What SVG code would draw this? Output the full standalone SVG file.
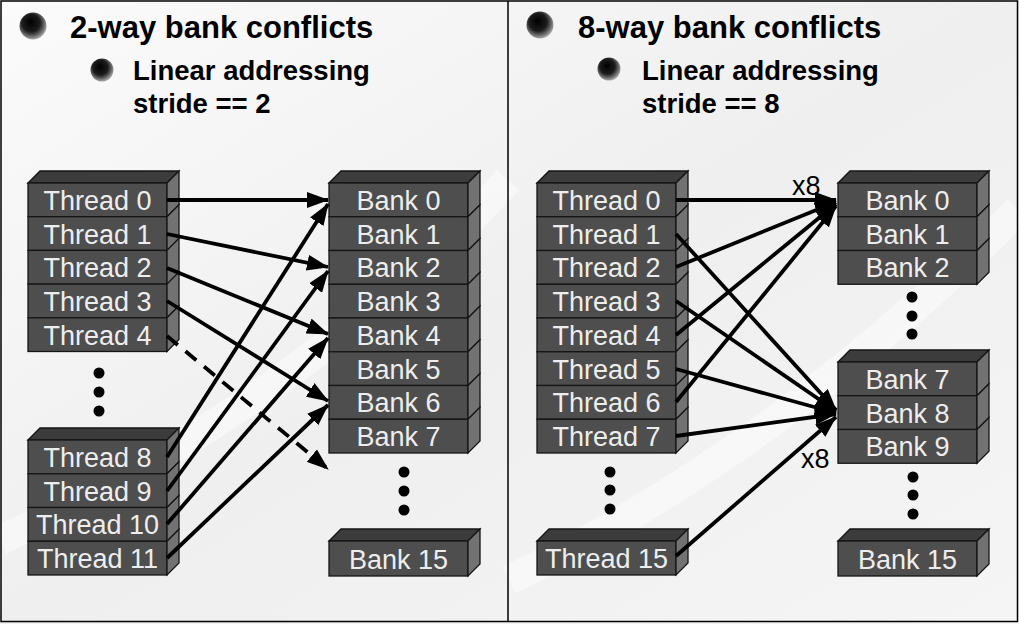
<svg xmlns="http://www.w3.org/2000/svg" width="1019" height="624" viewBox="0 0 1019 624">
<style>
.f{fill:#4e4e4e;stroke:#151515;stroke-width:1.3}
.s{fill:#727272;stroke:#151515;stroke-width:1.3}
.tp{fill:#3c3c3c;stroke:#151515;stroke-width:1.3}
.c{font-family:"Liberation Sans",Arial,sans-serif;font-size:27px;fill:#ededed;text-anchor:middle}
.h1{font-family:"Liberation Sans",Arial,sans-serif;font-size:31px;font-weight:bold;fill:#000}
.h2{font-family:"Liberation Sans",Arial,sans-serif;font-size:27.5px;font-weight:bold;fill:#000}
.lbl{font-family:"Liberation Sans",Arial,sans-serif;font-size:27px;fill:#000}
.a{stroke:#000;stroke-width:3.8;fill:none;marker-end:url(#ah)}
.d{stroke:#000;stroke-width:3.8;fill:none;stroke-dasharray:14 10;marker-end:url(#ah)}
.dot{fill:#000}
</style>
<defs>
<marker id="ah" markerUnits="userSpaceOnUse" markerWidth="24" markerHeight="16" refX="21" refY="8" orient="auto">
<path d="M0,0 L22,8 L0,16 z" fill="#000"/>
</marker>
<linearGradient id="bg" x1="0" y1="0" x2="1" y2="1">
<stop offset="0" stop-color="#fbfbfb"/>
<stop offset="0.5" stop-color="#efefef"/>
<stop offset="1" stop-color="#f5f5f5"/>
</linearGradient>
<radialGradient id="ball" cx="0.45" cy="0.42" r="0.6" fx="0.4" fy="0.35">
<stop offset="0" stop-color="#000"/>
<stop offset="0.55" stop-color="#1c1c1c"/>
<stop offset="0.8" stop-color="#6a6a6a"/>
<stop offset="1" stop-color="#b5b5b5"/>
</radialGradient>
</defs>

<g id="background">
<rect x="0" y="0" width="1019" height="624" fill="url(#bg)"/>
<path d="M0,540 C200,450 380,320 508,180" stroke="#ffffff" stroke-opacity="0.45" stroke-width="30" fill="none"/>
<path d="M509,580 C700,490 880,350 1018,210" stroke="#ffffff" stroke-opacity="0.45" stroke-width="30" fill="none"/>
<rect x="1" y="1" width="1016.5" height="620.5" fill="none" stroke="#000" stroke-width="1.5"/>
<line x1="508" y1="1" x2="508" y2="622" stroke="#000" stroke-width="1.5"/>
</g>

<g id="titles">
<circle cx="33" cy="26" r="13.5" fill="url(#ball)"/>
<text class="h1" x="70" y="38">2-way bank conflicts</text>
<circle cx="102" cy="70" r="11.5" fill="url(#ball)"/>
<text class="h2" x="133" y="80">Linear addressing</text>
<text class="h2" x="133" y="113">stride == 2</text>
<circle cx="540" cy="25" r="13.5" fill="url(#ball)"/>
<text class="h1" x="578" y="38">8-way bank conflicts</text>
<circle cx="609" cy="69" r="11.5" fill="url(#ball)"/>
<text class="h2" x="642" y="80">Linear addressing</text>
<text class="h2" x="642" y="113">stride == 8</text>
</g>

<!-- Left threads 0-4 -->
<g id="L-thread0"><polygon class="tp" points="28,183 40,171 179,171 167,183"/><rect class="f" x="28" y="183" width="139" height="33.7"/><polygon class="s" points="167,183 179,171 179,204.7 167,216.7"/><text class="c" x="97.5" y="209.9">Thread 0</text></g>
<g id="L-thread1"><rect class="f" x="28" y="216.7" width="139" height="33.7"/><polygon class="s" points="167,216.7 179,204.7 179,238.4 167,250.4"/><text class="c" x="97.5" y="243.6">Thread 1</text></g>
<g id="L-thread2"><rect class="f" x="28" y="250.4" width="139" height="33.7"/><polygon class="s" points="167,250.4 179,238.4 179,272.1 167,284.1"/><text class="c" x="97.5" y="277.3">Thread 2</text></g>
<g id="L-thread3"><rect class="f" x="28" y="284.1" width="139" height="33.7"/><polygon class="s" points="167,284.1 179,272.1 179,305.8 167,317.8"/><text class="c" x="97.5" y="311">Thread 3</text></g>
<g id="L-thread4"><rect class="f" x="28" y="317.8" width="139" height="33.7"/><polygon class="s" points="167,317.8 179,305.8 179,339.5 167,351.5"/><text class="c" x="97.5" y="344.7">Thread 4</text></g>

<g id="L-thread-dots"><circle class="dot" cx="99" cy="373" r="5.5"/><circle class="dot" cx="99" cy="392" r="5.5"/><circle class="dot" cx="99" cy="411" r="5.5"/></g>

<!-- Left threads 8-11 -->
<g id="L-thread8"><polygon class="tp" points="28,440 40,428 179,428 167,440"/><rect class="f" x="28" y="440" width="139" height="33.75"/><polygon class="s" points="167,440 179,428 179,461.75 167,473.75"/><text class="c" x="97.5" y="466.9">Thread 8</text></g>
<g id="L-thread9"><rect class="f" x="28" y="473.75" width="139" height="33.75"/><polygon class="s" points="167,473.75 179,461.75 179,495.5 167,507.5"/><text class="c" x="97.5" y="500.6">Thread 9</text></g>
<g id="L-thread10"><rect class="f" x="28" y="507.5" width="139" height="33.75"/><polygon class="s" points="167,507.5 179,495.5 179,529.25 167,541.25"/><text class="c" x="97.5" y="534.4">Thread 10</text></g>
<g id="L-thread11"><rect class="f" x="28" y="541.25" width="139" height="33.75"/><polygon class="s" points="167,541.25 179,529.25 179,563 167,575"/><text class="c" x="97.5" y="568.1">Thread 11</text></g>

<!-- Left banks 0-7 -->
<g id="L-bank0"><polygon class="tp" points="329,183 341,171 480,171 468,183"/><rect class="f" x="329" y="183" width="139" height="33.75"/><polygon class="s" points="468,183 480,171 480,204.75 468,216.75"/><text class="c" x="398.5" y="209.9">Bank 0</text></g>
<g id="L-bank1"><rect class="f" x="329" y="216.75" width="139" height="33.75"/><polygon class="s" points="468,216.75 480,204.75 480,238.5 468,250.5"/><text class="c" x="398.5" y="243.6">Bank 1</text></g>
<g id="L-bank2"><rect class="f" x="329" y="250.5" width="139" height="33.75"/><polygon class="s" points="468,250.5 480,238.5 480,272.25 468,284.25"/><text class="c" x="398.5" y="277.4">Bank 2</text></g>
<g id="L-bank3"><rect class="f" x="329" y="284.25" width="139" height="33.75"/><polygon class="s" points="468,284.25 480,272.25 480,306 468,318"/><text class="c" x="398.5" y="311.1">Bank 3</text></g>
<g id="L-bank4"><rect class="f" x="329" y="318" width="139" height="33.75"/><polygon class="s" points="468,318 480,306 480,339.75 468,351.75"/><text class="c" x="398.5" y="344.9">Bank 4</text></g>
<g id="L-bank5"><rect class="f" x="329" y="351.75" width="139" height="33.75"/><polygon class="s" points="468,351.75 480,339.75 480,373.5 468,385.5"/><text class="c" x="398.5" y="378.6">Bank 5</text></g>
<g id="L-bank6"><rect class="f" x="329" y="385.5" width="139" height="33.75"/><polygon class="s" points="468,385.5 480,373.5 480,407.25 468,419.25"/><text class="c" x="398.5" y="412.4">Bank 6</text></g>
<g id="L-bank7"><rect class="f" x="329" y="419.25" width="139" height="33.75"/><polygon class="s" points="468,419.25 480,407.25 480,441 468,453"/><text class="c" x="398.5" y="446.1">Bank 7</text></g>

<g id="L-bank-dots"><circle class="dot" cx="404" cy="472" r="5.5"/><circle class="dot" cx="404" cy="491" r="5.5"/><circle class="dot" cx="404" cy="510" r="5.5"/></g>

<g id="L-bank15"><polygon class="tp" points="329,541 341,529 480,529 468,541"/><rect class="f" x="329" y="541" width="139" height="35"/><polygon class="s" points="468,541 480,529 480,564 468,576"/><text class="c" x="398.5" y="568.5">Bank 15</text></g>

<!-- Right threads 0-7 -->
<g id="R-thread0"><polygon class="tp" points="537,183 549,171 688,171 676,183"/><rect class="f" x="537" y="183" width="139" height="33.75"/><polygon class="s" points="676,183 688,171 688,204.75 676,216.75"/><text class="c" x="606.5" y="209.9">Thread 0</text></g>
<g id="R-thread1"><rect class="f" x="537" y="216.75" width="139" height="33.75"/><polygon class="s" points="676,216.75 688,204.75 688,238.5 676,250.5"/><text class="c" x="606.5" y="243.6">Thread 1</text></g>
<g id="R-thread2"><rect class="f" x="537" y="250.5" width="139" height="33.75"/><polygon class="s" points="676,250.5 688,238.5 688,272.25 676,284.25"/><text class="c" x="606.5" y="277.4">Thread 2</text></g>
<g id="R-thread3"><rect class="f" x="537" y="284.25" width="139" height="33.75"/><polygon class="s" points="676,284.25 688,272.25 688,306 676,318"/><text class="c" x="606.5" y="311.1">Thread 3</text></g>
<g id="R-thread4"><rect class="f" x="537" y="318" width="139" height="33.75"/><polygon class="s" points="676,318 688,306 688,339.75 676,351.75"/><text class="c" x="606.5" y="344.9">Thread 4</text></g>
<g id="R-thread5"><rect class="f" x="537" y="351.75" width="139" height="33.75"/><polygon class="s" points="676,351.75 688,339.75 688,373.5 676,385.5"/><text class="c" x="606.5" y="378.6">Thread 5</text></g>
<g id="R-thread6"><rect class="f" x="537" y="385.5" width="139" height="33.75"/><polygon class="s" points="676,385.5 688,373.5 688,407.25 676,419.25"/><text class="c" x="606.5" y="412.4">Thread 6</text></g>
<g id="R-thread7"><rect class="f" x="537" y="419.25" width="139" height="33.75"/><polygon class="s" points="676,419.25 688,407.25 688,441 676,453"/><text class="c" x="606.5" y="446.1">Thread 7</text></g>

<g id="R-thread-dots"><circle class="dot" cx="610" cy="472" r="5.5"/><circle class="dot" cx="610" cy="490" r="5.5"/><circle class="dot" cx="610" cy="509" r="5.5"/></g>

<g id="R-thread15"><polygon class="tp" points="537,541 549,529 688,529 676,541"/><rect class="f" x="537" y="541" width="139" height="34"/><polygon class="s" points="676,541 688,529 688,563 676,575"/><text class="c" x="606.5" y="568">Thread 15</text></g>

<!-- Right banks -->
<g id="R-bank0"><polygon class="tp" points="838,183 850,171 989,171 977,183"/><rect class="f" x="838" y="183" width="139" height="33.75"/><polygon class="s" points="977,183 989,171 989,204.75 977,216.75"/><text class="c" x="907.5" y="209.9">Bank 0</text></g>
<g id="R-bank1"><rect class="f" x="838" y="216.75" width="139" height="33.75"/><polygon class="s" points="977,216.75 989,204.75 989,238.5 977,250.5"/><text class="c" x="907.5" y="243.6">Bank 1</text></g>
<g id="R-bank2"><rect class="f" x="838" y="250.5" width="139" height="33.75"/><polygon class="s" points="977,250.5 989,238.5 989,272.25 977,284.25"/><text class="c" x="907.5" y="277.4">Bank 2</text></g>

<g id="R-bank-dots1"><circle class="dot" cx="912" cy="297" r="5.5"/><circle class="dot" cx="912" cy="316" r="5.5"/><circle class="dot" cx="912" cy="334" r="5.5"/></g>

<g id="R-bank7"><polygon class="tp" points="838,362 850,350 989,350 977,362"/><rect class="f" x="838" y="362" width="139" height="33.75"/><polygon class="s" points="977,362 989,350 989,383.75 977,395.75"/><text class="c" x="907.5" y="388.9">Bank 7</text></g>
<g id="R-bank8"><rect class="f" x="838" y="395.75" width="139" height="33.75"/><polygon class="s" points="977,395.75 989,383.75 989,417.5 977,429.5"/><text class="c" x="907.5" y="422.6">Bank 8</text></g>
<g id="R-bank9"><rect class="f" x="838" y="429.5" width="139" height="33.75"/><polygon class="s" points="977,429.5 989,417.5 989,451.25 977,463.25"/><text class="c" x="907.5" y="456.4">Bank 9</text></g>

<g id="R-bank-dots2"><circle class="dot" cx="913" cy="477" r="5.5"/><circle class="dot" cx="913" cy="495" r="5.5"/><circle class="dot" cx="913" cy="514" r="5.5"/></g>

<g id="R-bank15"><polygon class="tp" points="838,541 850,529 989,529 977,541"/><rect class="f" x="838" y="541" width="139" height="35"/><polygon class="s" points="977,541 989,529 989,564 977,576"/><text class="c" x="907.5" y="568.5">Bank 15</text></g>

<g id="connectors">
<line class="a" x1="167" y1="200" x2="328" y2="200"/>
<line class="a" x1="167" y1="234" x2="328" y2="267"/>
<line class="a" x1="167" y1="268" x2="328" y2="334"/>
<line class="a" x1="167" y1="301" x2="328" y2="401"/>
<line class="d" x1="167" y1="336" x2="328" y2="469"/>
<line class="a" x1="167" y1="457" x2="328" y2="204"/>
<line class="a" x1="167" y1="491" x2="328" y2="271"/>
<line class="a" x1="167" y1="524" x2="328" y2="338"/>
<line class="a" x1="167" y1="558" x2="328" y2="405"/>

<line class="a" x1="676" y1="200" x2="836" y2="200"/>
<line class="a" x1="676" y1="267" x2="836" y2="202"/>
<line class="a" x1="676" y1="335" x2="836" y2="204"/>
<line class="a" x1="676" y1="402" x2="836" y2="206"/>
<line class="a" x1="676" y1="234" x2="836" y2="410"/>
<line class="a" x1="676" y1="301" x2="836" y2="411"/>
<line class="a" x1="676" y1="369" x2="836" y2="413"/>
<line class="a" x1="676" y1="436" x2="836" y2="414"/>
<line class="a" x1="676" y1="556" x2="836" y2="417"/>
<text class="lbl" x="792" y="195">x8</text>
<text class="lbl" x="801" y="468">x8</text>
</g>
</svg>
